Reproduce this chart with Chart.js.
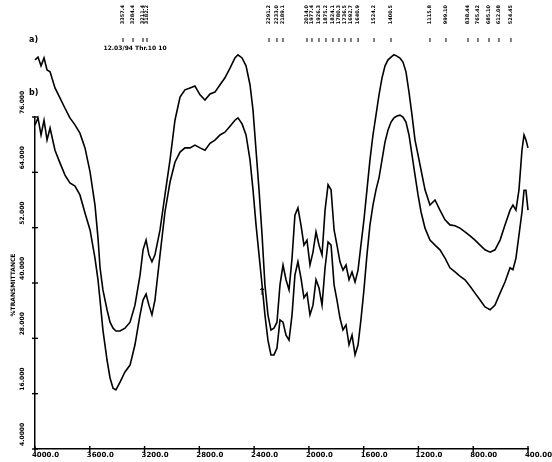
<!DOCTYPE html>
<html>
<head>
<meta charset="utf-8">
<script src="https://cdn.jsdelivr.net/npm/chart.js@4/dist/chart.umd.min.js"></script>
<style>
  html, body { margin: 0; padding: 0; background: #fff; }
  #wrap { width: 552px; height: 462px; }
</style>
</head>
<body>
<div id="wrap"><canvas id="c" width="552" height="462"></canvas></div>
<script>
// Wavenumber grid (cm-1) shared by both spectra
const wavenumbers = [
  4000, 3978, 3956, 3934, 3912, 3890, 3854, 3817, 3781, 3745, 3708, 3672, 3635, 3598, 3562, 3540,
  3525, 3504, 3474, 3452, 3430, 3409, 3379, 3343, 3306, 3270, 3233, 3211, 3189, 3168, 3146, 3124,
  3087, 3051, 3014, 2978, 2941, 2905, 2868, 2832, 2795, 2759, 2722, 2686, 2649, 2613, 2576, 2540,
  2518, 2488, 2459, 2430, 2408, 2386, 2364, 2342, 2321, 2299, 2277, 2255, 2233, 2211, 2189, 2167,
  2145, 2123, 2102, 2080, 2058, 2036, 2014, 1992, 1970, 1948, 1926, 1904, 1882, 1860, 1838, 1816,
  1795, 1773, 1751, 1729, 1707, 1685, 1663, 1641, 1620, 1598, 1576, 1554, 1532, 1510, 1488, 1466,
  1444, 1422, 1400, 1379, 1357, 1335, 1313, 1291, 1269, 1247, 1225, 1203, 1181, 1152, 1116, 1079,
  1043, 1006, 970, 933, 897, 860, 823, 787, 750, 714, 677, 641, 604, 568, 531, 510,
  488, 466, 444, 429, 415, 400
];

// Spectrum a) — %T
const transA = [
  88.4, 89.0, 87.1, 88.8, 86.2, 85.8, 82.3, 80.1, 77.9, 75.8, 74.3, 72.5, 69.3, 64.1, 56.9, 49.8,
  43.3, 38.5, 34.2, 31.5, 30.2, 29.6, 29.6, 30.2, 31.5, 35.2, 41.7, 47.2, 49.3, 46.1, 44.6, 46.1,
  51.5, 59.1, 66.7, 75.3, 80.3, 81.9, 82.3, 82.7, 80.8, 79.7, 81.0, 81.4, 83.0, 84.5, 86.6, 88.8,
  89.5, 88.8, 87.1, 83.0, 77.5, 68.8, 60.2, 50.4, 39.6, 33.1, 29.8, 30.2, 31.5, 39.6, 43.9, 40.7,
  38.5, 45.4, 54.7, 56.3, 52.6, 48.2, 49.3, 43.9, 46.7, 51.1, 48.2, 46.1, 55.8, 61.3, 60.2, 51.5,
  48.2, 44.6, 42.8, 43.9, 40.7, 42.4, 40.2, 42.8, 48.2, 53.7, 60.2, 66.7, 72.1, 76.4, 80.8, 84.5,
  87.1, 88.4, 89.0, 89.5, 89.2, 88.8, 87.9, 85.8, 81.4, 76.4, 71.0, 67.8, 64.5, 60.2, 56.9, 58.0,
  55.8, 53.7, 52.6, 52.4, 51.9, 51.1, 50.2, 49.3, 48.2, 47.2, 46.7, 47.2, 49.3, 52.6, 55.8, 56.9,
  55.8, 60.2, 68.8, 72.1, 71.0, 69.3
];

// Spectrum b) — %T
const transB = [
  74.3, 75.8, 72.1, 75.3, 71.0, 73.6, 68.8, 66.0, 63.4, 61.7, 61.0, 59.1, 55.2, 51.5, 45.4, 40.7,
  36.3, 29.8, 23.3, 19.4, 17.2, 16.8, 18.5, 20.7, 22.2, 26.6, 33.1, 36.3, 37.6, 35.2, 33.1, 36.3,
  46.1, 55.4, 61.9, 66.2, 68.4, 69.3, 69.3, 69.9, 69.3, 68.8, 70.3, 71.0, 72.1, 72.7, 74.0, 75.3,
  75.8, 74.5, 72.1, 66.7, 60.2, 52.6, 46.1, 39.6, 33.1, 27.6, 24.4, 24.4, 25.9, 32.0, 31.5, 28.7,
  27.6, 33.1, 41.7, 44.6, 41.1, 36.8, 37.8, 33.1, 35.2, 40.7, 38.9, 35.2, 43.3, 48.9, 48.2, 39.6,
  36.3, 32.4, 29.8, 30.9, 26.6, 28.7, 24.4, 26.6, 32.0, 38.5, 46.1, 52.6, 56.9, 60.2, 62.8, 66.7,
  70.6, 73.2, 74.9, 75.8, 76.2, 76.4, 76.0, 74.9, 72.1, 67.8, 63.4, 59.1, 55.4, 51.9, 49.3, 48.2,
  47.2, 45.4, 43.3, 42.4, 41.5, 40.7, 39.3, 37.8, 36.3, 34.8, 34.2, 35.2, 37.8, 40.2, 43.3, 42.9,
  45.4, 50.4, 55.4, 60.1, 60.1, 55.8
];

// Axis ticks
const xTicks = [4000, 3600, 3200, 2800, 2400, 2000, 1600, 1200, 800, 400];
const yTicks = [4, 16, 28, 40, 52, 64, 76];

// Band positions printed above the traces (cm-1)
const peakLabels = [
  3357.4, 3284.4, 3211.4, 3182.2,
  2291.2, 2233.0, 2189.1,
  2014.0, 1977.4, 1926.3, 1875.2, 1824.1, 1780.3, 1736.5, 1692.7, 1640.9,
  1524.2, 1400.5, 1115.8, 999.1, 838.44, 765.42, 685.10, 612.08, 524.45
];

// Print header line of the peak table
const peakHeader = '12.03/94 Thr.10 10';

const FONT = '"DejaVu Sans", sans-serif';
const fmt = v => (v >= 1000 ? v.toFixed(1) : v.toFixed(2));
const fmtY = v => (v < 10 ? v.toFixed(4) : v.toFixed(3));

const toPoints = arr => wavenumbers.map((w, i) => ({ x: w, y: arr[i] }));

const decor = {
  id: 'irDecor',
  afterDraw(chart) {
    const ctx = chart.ctx;
    const xs = chart.scales.x, ys = chart.scales.y;
    const area = chart.chartArea;
    ctx.save();
    ctx.fillStyle = '#000';
    ctx.strokeStyle = '#000';
    ctx.lineWidth = 1.4;

    // x tick crosses and labels (label starts at the tick)
    ctx.font = 'bold 7px ' + FONT;
    ctx.textAlign = 'left';
    ctx.textBaseline = 'top';
    xTicks.forEach(v => {
      const px = xs.getPixelForValue(v);
      ctx.beginPath();
      ctx.moveTo(px, area.bottom - 3);
      ctx.lineTo(px, area.bottom + 3);
      ctx.stroke();
      ctx.fillText(fmt(v), px - 3, area.bottom + 3);
    });

    // y tick crosses and rotated labels (label runs upward from the tick)
    yTicks.forEach(v => {
      const py = ys.getPixelForValue(v);
      ctx.beginPath();
      ctx.moveTo(area.left - 3, py);
      ctx.lineTo(area.left + 3, py);
      ctx.stroke();
      ctx.save();
      ctx.translate(area.left - 13, py - 3);
      ctx.rotate(-Math.PI / 2);
      ctx.textAlign = 'left';
      ctx.textBaseline = 'middle';
      ctx.font = 'bold 6px ' + FONT;
      ctx.fillText(fmtY(v), 0, 0);
      ctx.restore();
    });

    // y axis title
    ctx.save();
    ctx.translate(area.left - 22, ys.getPixelForValue(40) + 2);
    ctx.rotate(-Math.PI / 2);
    ctx.textAlign = 'center';
    ctx.textBaseline = 'middle';
    ctx.font = 'bold 6px ' + FONT;
    ctx.fillText('%TRANSMITTANCE', 0, 0);
    ctx.restore();

    // band labels along the top
    ctx.lineWidth = 1;
    peakLabels.forEach(w => {
      const px = xs.getPixelForValue(w);
      ctx.save();
      ctx.translate(px, 5);
      ctx.rotate(-Math.PI / 2);
      ctx.textAlign = 'right';
      ctx.textBaseline = 'middle';
      ctx.font = 'bold 5px ' + FONT;
      ctx.fillText(fmt(w), 0, 0);
      ctx.restore();
      ctx.beginPath();
      ctx.moveTo(px, 38);
      ctx.lineTo(px, 42);
      ctx.stroke();
    });

    // header line of the peak table
    ctx.font = 'bold 6px ' + FONT;
    ctx.textAlign = 'left';
    ctx.textBaseline = 'middle';
    ctx.fillText(peakHeader, xs.getPixelForValue(3500), 48);

    // trace identifiers
    ctx.font = 'bold 8px ' + FONT;
    ctx.fillText('a)', 29, 40);
    ctx.fillText('b)', 29, 93);

    // marker arrow in the carbonyl region
    ctx.font = 'bold 10px ' + FONT;
    ctx.textAlign = 'center';
    ctx.fillText('\u2191', xs.getPixelForValue(2342), ys.getPixelForValue(38));
    ctx.restore();
  }
};

new Chart(document.getElementById('c'), {
  type: 'line',
  data: {
    datasets: [
      { data: toPoints(transA), borderColor: '#000', borderWidth: 1.6, pointRadius: 0, tension: 0, clip: false },
      { data: toPoints(transB), borderColor: '#000', borderWidth: 1.6, pointRadius: 0, tension: 0, clip: false }
    ]
  },
  options: {
    responsive: false,
    animation: false,
    devicePixelRatio: 1,
    layout: { padding: { top: 117, right: 24, left: 0, bottom: 0 } },
    plugins: { legend: { display: false }, tooltip: { enabled: false } },
    scales: {
      x: {
        type: 'linear',
        reverse: true,
        min: 400,
        max: 4000,
        afterBuildTicks: s => { s.ticks = xTicks.map(v => ({ value: v })); },
        afterFit: s => { s.height = 13; },
        ticks: { display: false },
        grid: { display: false },
        border: { display: true, color: '#000', width: 1.5 }
      },
      y: {
        min: 4,
        max: 76,
        afterBuildTicks: s => { s.ticks = yTicks.map(v => ({ value: v })); },
        afterFit: s => { s.width = 35; },
        ticks: { display: false },
        grid: { display: false },
        border: { display: true, color: '#000', width: 1.5 }
      }
    }
  },
  plugins: [decor]
});
</script>
</body>
</html>
